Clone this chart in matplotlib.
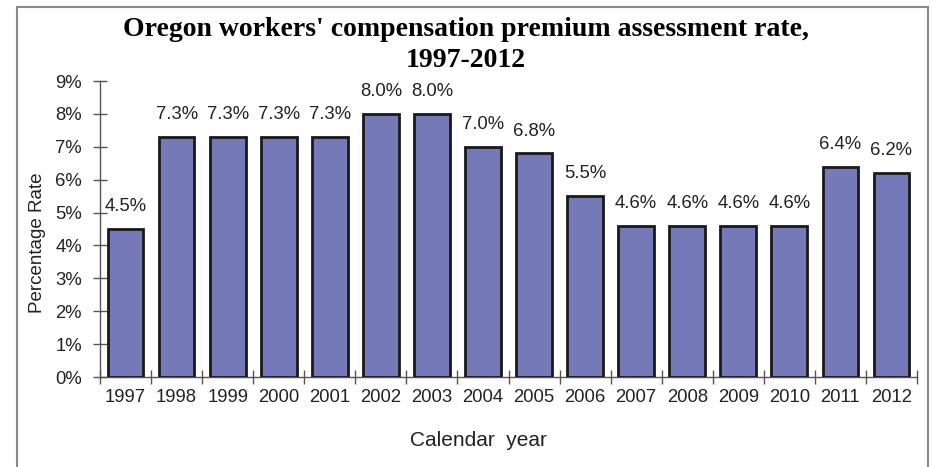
import matplotlib
matplotlib.use("Agg")
import matplotlib.pyplot as plt
from matplotlib.lines import Line2D

years = ["1997", "1998", "1999", "2000", "2001", "2002", "2003", "2004",
         "2005", "2006", "2007", "2008", "2009", "2010", "2011", "2012"]
rates = [4.5, 7.3, 7.3, 7.3, 7.3, 8.0, 8.0, 7.0,
         6.8, 5.5, 4.6, 4.6, 4.6, 4.6, 6.4, 6.2]
y_ticks = [0, 1, 2, 3, 4, 5, 6, 7, 8, 9]

title = "Oregon workers' compensation premium assessment rate,\n1997-2012"
bar_color = "#7579B8"
text_color = "#222222"
axis_color = "#555555"
fs = 13.3

plt.rcParams["font.family"] = ["Liberation Sans", "DejaVu Sans"]

W, H = 934, 467
fig = plt.figure(figsize=(W / 100, H / 100), dpi=100)
ax = fig.add_axes([100 / W, 1 - 377 / H, 817 / W, (377 - 81) / H])

x = list(range(len(years)))
ax.bar(x, rates, width=0.70, color=bar_color, edgecolor="#1a1a1a",
       linewidth=2.0, zorder=3)

for xi, r in zip(x, rates):
    ax.annotate(f"{r:.1f}%", (xi, r), xytext=(0, 16), textcoords="offset points",
                ha="center", va="center", fontsize=fs, color=text_color)

ax.set_xlim(-0.5, len(years) - 0.5)
ax.set_ylim(0, 9)
ax.set_yticks(y_ticks)
ax.set_yticklabels([f"{t}%" for t in y_ticks], fontsize=fs, color=text_color)

# category labels centered on bars, tick marks at category boundaries
ax.set_xticks(x)
ax.set_xticklabels(years, fontsize=fs, color=text_color)
ax.tick_params(axis="x", which="major", length=0, pad=9)
ax.set_xticks([i - 0.5 for i in range(len(years) + 1)], minor=True)
ax.tick_params(axis="x", which="minor", direction="inout", length=10,
               color=axis_color, width=1)
ax.tick_params(axis="y", direction="inout", length=10, color=axis_color,
               width=1, pad=8)

for side in ("top", "right"):
    ax.spines[side].set_visible(False)
for side in ("left", "bottom"):
    ax.spines[side].set_color(axis_color)
    ax.spines[side].set_linewidth(1.0)

fig.text(38 / W, 1 - 243 / H, "Percentage Rate", rotation=90, ha="center",
         va="center", fontsize=13.5, color=text_color)
fig.text(478 / W, 1 - 440 / H, "Calendar  year", ha="center", va="center",
         fontsize=15, color=text_color)

fig.text(466 / W, 1 - 45 / H, title, ha="center", va="center",
         fontsize=20, fontweight="bold", family="Liberation Serif",
         color="#000000", linespacing=1.28)

# frame around the chart area (open at the bottom)
fx0, fx1, fy = 17 / W, 928 / W, 1 - 7 / H
for xs, ys in (([fx0, fx0], [0, fy]), ([fx0, fx1], [fy, fy]), ([fx1, fx1], [fy, 0])):
    fig.add_artist(Line2D(xs, ys, transform=fig.transFigure, color="#8a8a8a",
                          linewidth=1.5))

fig.savefig("out.png", dpi=100)
